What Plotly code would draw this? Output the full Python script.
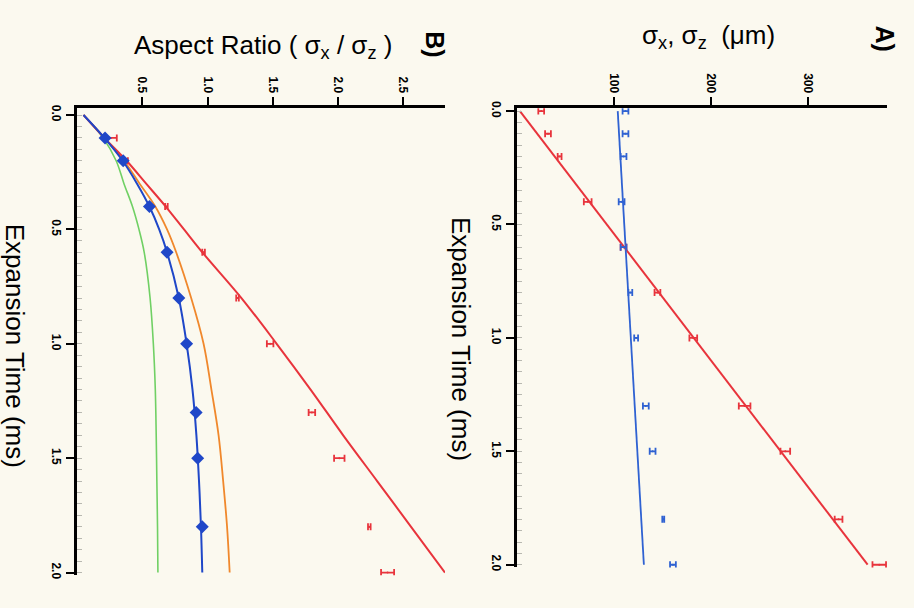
import plotly.graph_objects as go

# ---------------- data ----------------
# Panel A: cloud widths (um) vs expansion time (ms)
t_pts = [0.0, 0.1, 0.2, 0.4, 0.6, 0.8, 1.0, 1.3, 1.5, 1.8, 2.0]
sigma_x = [25, 32, 44, 73, 110, 145, 182, 235, 277, 332, 374]
sigma_x_err = [3, 3, 2, 4, 3, 3, 4, 6, 5, 4, 7]
sigma_z = [112, 112, 110, 108, 110, 117, 123, 133, 140, 151, 161]
sigma_z_err = [3, 3, 3, 3, 3, 2, 2, 3, 3, 1, 3]

fit_t = [0.0, 2.0]
fit_x = [3, 362]
fit_z = [104, 131]

# Panel B: aspect ratio vs expansion time
tB_red = [0.1, 0.2, 0.4, 0.6, 0.8, 1.0, 1.3, 1.5, 1.8, 2.0]
ratio_red = [0.26, 0.37, 0.685, 0.97, 1.23, 1.48, 1.80, 2.01, 2.24, 2.38]
ratio_red_err = [0.045, 0.02, 0.01, 0.01, 0.01, 0.025, 0.025, 0.04, 0.01, 0.05]

tB_blue = [0.1, 0.2, 0.4, 0.6, 0.8, 1.0, 1.3, 1.5, 1.8]
ratio_blue = [0.215, 0.354, 0.555, 0.69, 0.78, 0.84, 0.913, 0.925, 0.96]

t_curve = [0.0, 0.1, 0.2, 0.3, 0.4, 0.5, 0.6, 0.8, 1.0, 1.2, 1.4, 1.6, 1.8, 2.0]
curve_red = [0.05, 0.21, 0.38, 0.53, 0.68, 0.82, 0.96, 1.26, 1.53, 1.79, 2.04, 2.30, 2.56, 2.82]
curve_blue = [0.05, 0.21, 0.35, 0.46, 0.555, 0.63, 0.69, 0.78, 0.84, 0.885, 0.915, 0.935, 0.95, 0.96]
curve_orange = [0.05, 0.21, 0.36, 0.48, 0.60, 0.69, 0.76, 0.875, 0.97, 1.03, 1.085, 1.12, 1.15, 1.17]
curve_green = [0.05, 0.20, 0.30, 0.36, 0.425, 0.475, 0.515, 0.56, 0.585, 0.60, 0.607, 0.612, 0.617, 0.62]

time_ticks = [0.0, 0.5, 1.0, 1.5, 2.0]
minor_time_ticks = [0.05 * i for i in range(41)]

# ---------------- style ----------------
RED = "#e8343c"
BLUE_A = "#2f62d2"
BLUE_B = "#1f47c8"
ORANGE = "#f0882c"
GREEN = "#70d064"
BG = "#fbf9ef"
FONT = "Liberation Sans, Arial, sans-serif"

fig = go.Figure()

# Panel A
fig.add_trace(go.Scatter(x=fit_x, y=fit_t, mode="lines", line=dict(color=RED, width=2),
                         xaxis="x2", yaxis="y2", hoverinfo="skip"))
fig.add_trace(go.Scatter(x=fit_z, y=fit_t, mode="lines", line=dict(color=BLUE_A, width=1.8),
                         xaxis="x2", yaxis="y2", hoverinfo="skip"))
fig.add_trace(go.Scatter(x=sigma_x, y=t_pts, mode="markers", cliponaxis=False,
                         marker=dict(color=RED, size=2),
                         error_x=dict(type="data", array=sigma_x_err, color=RED, thickness=1.8, width=3.5),
                         xaxis="x2", yaxis="y2"))
fig.add_trace(go.Scatter(x=sigma_z, y=t_pts, mode="markers", cliponaxis=False,
                         marker=dict(color=BLUE_A, size=2),
                         error_x=dict(type="data", array=sigma_z_err, color=BLUE_A, thickness=1.8, width=3.5),
                         xaxis="x2", yaxis="y2"))

# Panel B
fig.add_trace(go.Scatter(x=curve_green, y=t_curve, mode="lines", line=dict(color=GREEN, width=1.6, shape="spline"),
                         xaxis="x", yaxis="y"))
fig.add_trace(go.Scatter(x=curve_orange, y=t_curve, mode="lines", line=dict(color=ORANGE, width=1.8, shape="spline"),
                         xaxis="x", yaxis="y"))
fig.add_trace(go.Scatter(x=curve_red, y=t_curve, mode="lines", line=dict(color=RED, width=2, shape="spline"),
                         xaxis="x", yaxis="y"))
fig.add_trace(go.Scatter(x=curve_blue, y=t_curve, mode="lines", line=dict(color=BLUE_B, width=2, shape="spline"),
                         xaxis="x", yaxis="y"))
fig.add_trace(go.Scatter(x=ratio_red, y=tB_red, mode="markers", cliponaxis=False,
                         marker=dict(color=RED, size=2),
                         error_x=dict(type="data", array=ratio_red_err, color=RED, thickness=1.8, width=3.5),
                         xaxis="x", yaxis="y"))
fig.add_trace(go.Scatter(x=ratio_blue, y=tB_blue, mode="markers", cliponaxis=False,
                         marker=dict(color=BLUE_B, size=10, symbol="diamond"),
                         xaxis="x", yaxis="y"))

W, H = 914, 608
def px(xp):
    return xp / W
def py(yp):
    return 1 - yp / H

tickfont = dict(family=FONT, size=12, color="black", weight="bold")
common_x = dict(side="top", showline=True, linecolor="black", linewidth=2.5, ticks="outside",
                ticklen=8, tickwidth=2, tickcolor="black", tickangle=90, showgrid=False,
                zeroline=False, tickfont=tickfont)
common_y = dict(showline=True, linecolor="black", linewidth=2.5, ticks="outside",
                ticklen=8, tickwidth=2, tickcolor="black", tickangle=90, showgrid=False,
                zeroline=False, tickfont=tickfont, tickvals=time_ticks,
                tickformat=".1f",
                minor=dict(ticks="inside", ticklen=5, tickwidth=1, tickcolor="#b8b8b0",
                           tickvals=minor_time_ticks))

# axis pixel layout: panel A time axis 0 -> y=106, 2.0 -> y=568 ; panel B 0 -> 110, 2.0 -> 576
A_ppm = (568 - 106) / 2.0
B_ppm = (576 - 110) / 2.0
A_end = 2.012
B_end = 2.012

fig.update_layout(
    width=W, height=H, margin=dict(l=0, r=0, t=0, b=0),
    paper_bgcolor=BG, plot_bgcolor=BG, showlegend=False,
    xaxis=dict(common_x, domain=[px(77), px(445)], range=[0, 2.82], anchor="y",
               tickvals=[0.5, 1.0, 1.5, 2.0, 2.5], tickformat=".1f"),
    yaxis=dict(common_y, domain=[py(110 + B_end * B_ppm), py(103)],
               range=[B_end, -(110 - 103) / B_ppm], anchor="x"),
    xaxis2=dict(common_x, domain=[px(517), px(887)], range=[0, 382], anchor="y2",
                tickvals=[100, 200, 300]),
    yaxis2=dict(common_y, domain=[py(106 + A_end * A_ppm), py(103)],
                range=[A_end, -(106 - 103) / A_ppm], anchor="x2"),
)

ann = [
    dict(x=px(885), y=py(32), text="<b>A)</b>", textangle=90, font=dict(size=25)),
    dict(x=px(435), y=py(38), text="<b>B)</b>", textangle=90, font=dict(size=25)),
    dict(x=px(708), y=py(30), text="σ<sub>x</sub>, σ<sub>z</sub>  (μm)", font=dict(size=26)),
    dict(x=px(263), y=py(40), text="Aspect Ratio ( σ<sub>x</sub> / σ<sub>z</sub> )", font=dict(size=26)),
    dict(x=px(461), y=py(338), text="Expansion Time (ms)", textangle=90, font=dict(size=26)),
    dict(x=px(15), y=py(345), text="Expansion Time (ms)", textangle=90, font=dict(size=26)),
]
for a in ann:
    a.update(xref="paper", yref="paper", showarrow=False, xanchor="center", yanchor="middle")
    a["font"].update(family=FONT, color="black")
fig.update_layout(annotations=ann)

fig.write_html("out.html")
